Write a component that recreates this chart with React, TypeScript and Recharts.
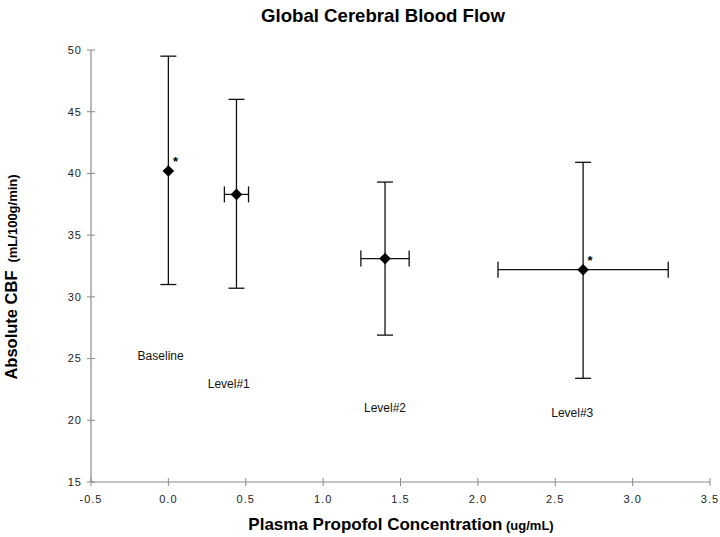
import React from 'react';
import { ScatterChart, Scatter, XAxis, YAxis, ErrorBar } from 'recharts';

// ---- Data ----
const conditions = ['Baseline', 'Level#1', 'Level#2', 'Level#3'];
const concentration = [0.0, 0.44, 1.4, 2.68];
const concentrationErr: (number | null)[] = [null, 0.078, 0.156, 0.55];
const cbfMean = [40.2, 38.3, 33.1, 32.2];
const cbfLower = [31.0, 30.7, 26.9, 23.4];
const cbfUpper = [49.5, 46.0, 39.3, 40.9];
const significance = ['*', '', '', '*'];
const labelX = [-0.05, 0.39, 1.4, 2.61];
const labelY = [25.2, 22.9, 21.0, 20.6];
const xTicks = [-0.5, 0, 0.5, 1, 1.5, 2, 2.5, 3, 3.5];
const yTicks = [15, 20, 25, 30, 35, 40, 45, 50];

const points = conditions.map((c, i) => ({
  name: c,
  x: concentration[i],
  y: cbfMean[i],
  errX: concentrationErr[i],
  errY: [cbfMean[i] - cbfLower[i], cbfUpper[i] - cbfMean[i]],
  star: significance[i],
}));

const labelPoints = conditions.map((c, i) => ({ name: c, x: labelX[i], y: labelY[i] }));

const FONT = '"Liberation Sans", Arial, Helvetica, sans-serif';
const AXIS_COLOR = '#8a8a8a';

const Diamond = (props: any) => {
  const { cx, cy, payload } = props;
  const r = 5.8;
  return (
    <g>
      <path d={`M${cx},${cy - r}L${cx + r},${cy}L${cx},${cy + r}L${cx - r},${cy}Z`} fill="#000" />
      {payload && payload.star ? (
        <text x={cx + 4.5} y={cy - 5} fontSize={13} fontWeight="bold" fontFamily={FONT} fill="#000">
          {payload.star}
        </text>
      ) : null}
    </g>
  );
};

const TextMark = (props: any) => {
  const { cx, cy, payload } = props;
  return (
    <text x={cx} y={cy} textAnchor="middle" dominantBaseline="central" fontSize={12} fontFamily={FONT} fill="#111">
      {payload.name}
    </text>
  );
};

const YTick = (props: any) => {
  const { x, y, payload } = props;
  return (
    <g>
      <line x1={x - 4} x2={x + 4} y1={y} y2={y} stroke={AXIS_COLOR} />
      <text x={x - 9} y={y} dy="0.35em" textAnchor="end" fontSize={11} letterSpacing={1} fontFamily={FONT} fill="#222">
        {payload.value}
      </text>
    </g>
  );
};

const XTick = (props: any) => {
  const { x, y, payload } = props;
  return (
    <g>
      <line x1={x} x2={x} y1={y - 4} y2={y + 4} stroke={AXIS_COLOR} />
      <text x={x} y={y + 17} dy="0.35em" textAnchor="middle" fontSize={11} letterSpacing={1} fontFamily={FONT} fill="#222">
        {Number(payload.value).toFixed(1)}
      </text>
    </g>
  );
};

export default function App() {
  return (
    <div style={{ position: 'absolute', left: 0, top: 0, width: 720, height: 537, background: '#fff', fontFamily: FONT }}>
      <ScatterChart width={720} height={537} margin={{ top: 50, right: 10, bottom: 25, left: 31 }}>
        <XAxis
          type="number"
          dataKey="x"
          domain={[-0.5, 3.5]}
          ticks={xTicks}
          interval={0}
          allowDataOverflow
          axisLine={{ stroke: AXIS_COLOR, strokeWidth: 1.2 }}
          tickLine={false}
          tickSize={0}
          tickMargin={0}
          tick={<XTick />}
          height={30}
        />
        <YAxis
          type="number"
          dataKey="y"
          domain={[15, 50]}
          ticks={yTicks}
          interval={0}
          allowDataOverflow
          axisLine={{ stroke: AXIS_COLOR, strokeWidth: 1.2 }}
          tickLine={false}
          tickSize={0}
          tickMargin={0}
          tick={<YTick />}
          width={60}
        />
        <Scatter data={points} shape={<Diamond />} isAnimationActive={false}>
          <ErrorBar dataKey="errY" direction="y" width={8} stroke="#111" strokeWidth={1.3} isAnimationActive={false} />
          <ErrorBar dataKey="errX" direction="x" width={8} stroke="#111" strokeWidth={1.3} isAnimationActive={false} />
        </Scatter>
        <Scatter data={labelPoints} shape={<TextMark />} isAnimationActive={false} />
      </ScatterChart>

      <div style={{ position: 'absolute', left: 383, top: 16, transform: 'translate(-50%,-50%)', fontSize: 18.6, fontWeight: 'bold', whiteSpace: 'nowrap', color: '#000' }}>
        Global Cerebral Blood Flow
      </div>
      <div style={{ position: 'absolute', left: 401, top: 525, transform: 'translate(-50%,-50%)', whiteSpace: 'nowrap', fontWeight: 'bold', color: '#000' }}>
        <span style={{ fontSize: 17 }}>Plasma Propofol Concentration</span>
        <span style={{ fontSize: 13 }}> (ug/mL)</span>
      </div>
      <div style={{ position: 'absolute', left: 11, top: 277, transform: 'translate(-50%,-50%) rotate(-90deg)', whiteSpace: 'nowrap', fontWeight: 'bold', color: '#000' }}>
        <span style={{ fontSize: 16.5 }}>Absolute CBF</span>
        <span style={{ fontSize: 13, marginLeft: 8 }}>(mL/100g/min)</span>
      </div>
    </div>
  );
}
